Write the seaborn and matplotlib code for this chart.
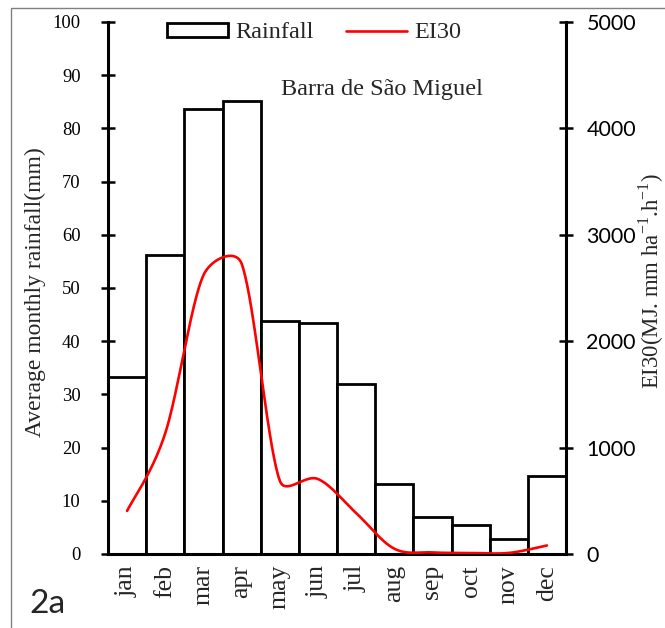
import numpy as np
import pandas as pd
import matplotlib
matplotlib.use("Agg")
import matplotlib.pyplot as plt
import seaborn as sns
from matplotlib.patches import Rectangle
from matplotlib.lines import Line2D

# ---------------- data ----------------
months = ["jan", "feb", "mar", "apr", "may", "jun", "jul", "aug", "sep", "oct", "nov", "dec"]
rainfall = [33.3, 56.2, 83.6, 85.2, 43.8, 43.4, 32.0, 13.2, 6.9, 5.5, 2.8, 14.7]
ei30 = [405, 1135, 2620, 2730, 690, 705, 385, 50, 15, 10, 10, 80]
left_ticks = [0, 10, 20, 30, 40, 50, 60, 70, 80, 90, 100]
right_ticks = [0, 1000, 2000, 3000, 4000, 5000]
station = "Barra de São Miguel"
panel = "2a"

sns.set_style("white")
plt.rcParams["font.family"] = ["Liberation Serif", "DejaVu Serif"]
plt.rcParams["mathtext.fontset"] = "custom"
plt.rcParams["mathtext.rm"] = "Liberation Serif"

W, H = 665, 628
fig = plt.figure(figsize=(W / 100, H / 100), dpi=100)
ax = fig.add_axes([108 / W, 1 - 554 / H, (566 - 108) / W, (554 - 22) / H])

df = pd.DataFrame({"month": months, "rain": rainfall})
sns.barplot(data=df, x="month", y="rain", color="white", edgecolor="black",
            linewidth=2.0, width=1.0, saturation=1, ax=ax)
ax.set_ylim(0, 100)
ax.set_xlim(-0.5, 11.5)
ax.set_yticks(left_ticks)
ax.set_xlabel("")
ax.set_ylabel("")

for s in ["top", "right"]:
    ax.spines[s].set_visible(False)
for s in ["left", "bottom"]:
    ax.spines[s].set_linewidth(2.2)
    ax.spines[s].set_color("black")
ax.tick_params(axis="y", direction="inout", length=9.5, width=1.8, pad=15,
               labelsize=13.4, colors="black")
ax.tick_params(axis="x", length=0, pad=8, labelsize=18.5, labelrotation=90)

# ---------------- EI30 line (Excel-like smoothed curve) ----------------
ax2 = ax.twinx()
ax2.set_ylim(0, 5000)
ax2.set_yticks(right_ticks)
for s in ["top", "left", "bottom"]:
    ax2.spines[s].set_visible(False)
ax2.spines["right"].set_linewidth(2.2)
ax2.spines["right"].set_color("black")
ax2.tick_params(axis="y", direction="inout", length=9.5, width=1.8, pad=10,
                labelsize=15.5, colors="black")
for lab in ax2.get_yticklabels():
    lab.set_family("Lato")

sx = 38.2          # px per month
sy = 531 / 5000    # px per EI30 unit


def smooth_curve(xv, yv, n=40):
    """Catmull-Rom style Bezier smoothing, with control arms shortened
    next to very short segments (as Excel's smoothed lines do)."""
    P = np.column_stack([np.asarray(xv, float) * sx, np.asarray(yv, float) * sy])
    N = len(P)
    pts = []
    for i in range(N - 1):
        p0 = P[i - 1] if i > 0 else P[i]
        p1, p2 = P[i], P[i + 1]
        p3 = P[i + 2] if i + 2 < N else P[i + 1]
        l01 = np.linalg.norm(p1 - p0)
        l12 = np.linalg.norm(p2 - p1)
        l23 = np.linalg.norm(p3 - p2)
        g1 = min(1.0, 3 * l12 / (l01 + l12))
        g2 = min(1.0, 3 * l12 / (l12 + l23))
        c1 = p1 + (p2 - p0) / 6 * g1
        c2 = p2 - (p3 - p1) / 6 * g2
        t = np.linspace(0, 1, n)[:, None]
        if i > 0:
            t = t[1:]
        B = (1 - t) ** 3 * p1 + 3 * (1 - t) ** 2 * t * c1 + 3 * (1 - t) * t ** 2 * c2 + t ** 3 * p2
        pts.append(B)
    B = np.vstack(pts)
    return B[:, 0] / sx, B[:, 1] / sy


cx, cy = smooth_curve(np.arange(len(months)), ei30)
sns.lineplot(x=cx, y=cy, sort=False, color="red", linewidth=1.9, ax=ax2)

# ---------------- legend ----------------
handles = [Rectangle((0, 0), 1, 1, facecolor="white", edgecolor="black", linewidth=2.0),
           Line2D([0], [0], color="red", linewidth=1.9)]
leg = ax.legend(handles, ["Rainfall", "EI30"], ncol=2, frameon=False,
                loc="center left", bbox_to_anchor=(167 / W, 1 - 33 / H),
                bbox_transform=fig.transFigure, fontsize=17.5,
                handlelength=2.5, handleheight=0.5, handletextpad=0.3,
                columnspacing=1.35, borderpad=0, borderaxespad=0)

# ---------------- texts ----------------
fig.text(382 / W, 1 - 89 / H, station, ha="center", va="center", fontsize=17.5)
fig.text(35 / W, 1 - 292 / H, "Average monthly rainfall(mm)", rotation=90,
         ha="center", va="center", fontsize=17.0)
fig.text(651 / W, 1 - 281 / H,
         "EI30(MJ. mm ha$^{\\mathregular{-1}}$.h$^{\\mathregular{-1}}$)",
         rotation=90, ha="center", va="center", fontsize=16.4)
fig.text(29 / W, 1 - 604 / H, panel, ha="left", va="center", fontsize=24,
         family=["Lato", "DejaVu Sans"])

# outer frame
fig.patches.append(Rectangle((10.5 / W, -0.2), 2.0, 1.2 - 7.5 / H,
                             transform=fig.transFigure, fill=False,
                             edgecolor="#808080", linewidth=1.0))

fig.savefig("out.png", dpi=100)
